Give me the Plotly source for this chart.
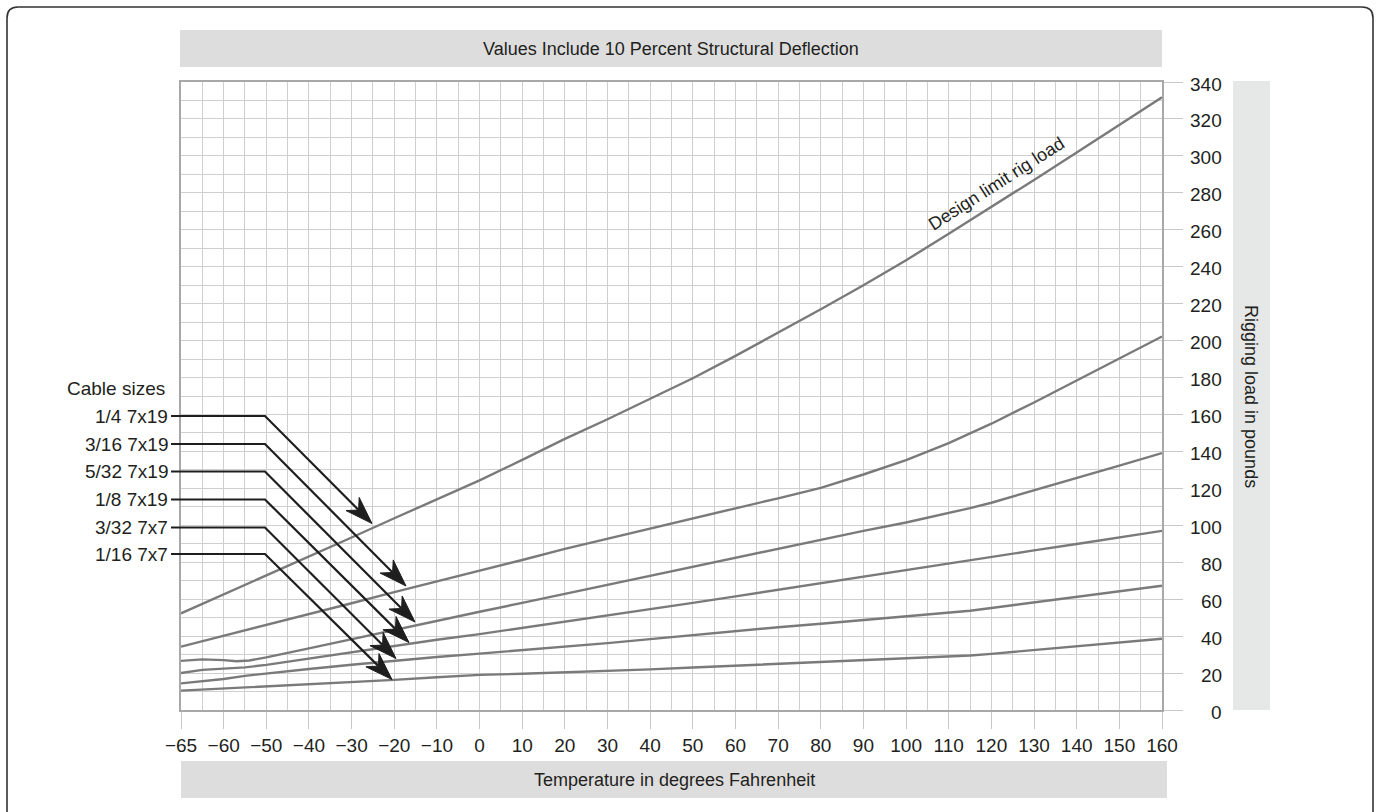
import math
import plotly.graph_objects as go

# ---------------- data (real temperatures in °F, loads in pounds) ----------------
temps_1_4 = [-65, -60, -50, -40, -30, -20, -10, 0, 10, 20, 30, 40, 50, 60, 70, 80, 90, 100, 110, 120, 130, 140, 150, 160]
load_1_4 = [52.3, 62.5, 72.8, 83.1, 93.4, 103.8, 114.0, 124.3, 135.4, 146.8, 157.4, 168.4, 179.6, 191.7, 204.3, 217.0, 230.0, 243.5, 257.8, 272.3, 287.0, 301.8, 316.7, 331.7]

temps_3_16 = [-65, -60, -50, -40, -30, -20, -10, 0, 10, 20, 30, 40, 50, 60, 70, 80, 90, 100, 110, 120, 130, 140, 150, 160]
load_3_16 = [34.3, 40.1, 46.0, 51.9, 57.8, 63.8, 69.5, 75.3, 81.2, 87.2, 92.8, 98.2, 103.8, 109.2, 114.6, 120.3, 127.5, 135.3, 144.5, 155.0, 166.5, 178.5, 190.3, 202.2]

temps_5_32 = [-65, -62.5, -60, -57, -54, -50, -40, -30, -20, -10, 0, 10, 20, 30, 40, 50, 60, 70, 80, 90, 100, 110, 115, 120, 130, 140, 150, 160]
load_5_32 = [26.6, 27.4, 27.0, 26.4, 26.8, 28.5, 33.4, 38.4, 43.6, 48.5, 53.2, 58.0, 62.9, 67.8, 72.7, 77.6, 82.6, 87.5, 92.5, 97.0, 101.5, 106.5, 109.3, 112.2, 118.8, 125.5, 132.3, 139.1]

temps_1_8 = [-65, -62.5, -60, -55, -50, -40, -30, -20, -10, 0, 10, 20, 30, 40, 50, 60, 70, 80, 90, 100, 110, 120, 130, 140, 150, 160]
load_1_8 = [20.0, 21.7, 22.4, 23.1, 24.4, 27.8, 31.3, 34.8, 38.0, 41.1, 44.4, 47.7, 51.1, 54.5, 58.0, 61.5, 65.1, 68.8, 72.3, 75.8, 79.3, 82.9, 86.4, 89.9, 93.5, 97.0]

temps_3_32 = [-65, -60, -55, -50, -40, -30, -20, -10, 0, 10, 20, 25, 30, 40, 50, 60, 70, 80, 90, 100, 110, 115, 120, 130, 140, 150, 160]
load_3_32 = [14.4, 16.8, 18.5, 19.8, 22.2, 24.5, 26.8, 28.7, 30.5, 32.3, 34.0, 35.0, 36.2, 38.4, 40.6, 42.8, 44.8, 46.7, 48.6, 50.6, 52.6, 53.7, 55.2, 58.2, 61.2, 64.2, 67.3]

temps_1_16 = [-65, -60, -50, -40, -30, -20, -10, 0, 10, 20, 30, 40, 50, 60, 70, 80, 90, 100, 110, 115, 120, 130, 140, 150, 160]
load_1_16 = [10.5, 11.6, 12.7, 13.8, 15.0, 16.3, 17.7, 19.0, 19.6, 20.3, 21.1, 22.0, 23.0, 24.0, 25.0, 26.0, 26.9, 27.8, 28.8, 29.5, 30.4, 32.4, 34.5, 36.5, 38.6]

cable_labels = ["1/4 7x19", "3/16 7x19", "5/32 7x19", "1/8 7x19", "3/32 7x7", "1/16 7x7"]

x_tick_temps = [-65, -60, -50, -40, -30, -20, -10, 0, 10, 20, 30, 40, 50, 60, 70, 80, 90, 100, 110, 120, 130, 140, 150, 160]
y_tick_vals = list(range(0, 341, 20))

title_top = "Values Include 10 Percent Structural Deflection"
title_x = "Temperature in degrees Fahrenheit"
title_y = "Rigging load in pounds"
curve_note = "Design limit rig load"

# ---------------- helpers ----------------
def disp(t):
    """The chart draws the -65..-60 step at the same width as a 10 degree step."""
    return t if t >= -60 else -60 + (t + 60) * 2

W, H = 1377, 812
L, R, T, B = 181, 1162, 82, 710

def X(px):
    return (px - L) / (R - L)

def Y(py):
    return (B - py) / (B - T)

FONT = "Liberation Sans, Arial, Helvetica, sans-serif"
TXT = "#231f20"
LINE = "#7a7a7a"
GRID = "#cfcfcf"
INK = "#1e1e1e"

series = [
    (temps_1_4, load_1_4),
    (temps_3_16, load_3_16),
    (temps_5_32, load_5_32),
    (temps_1_8, load_1_8),
    (temps_3_32, load_3_32),
    (temps_1_16, load_1_16),
]

fig = go.Figure()
for (ts, vs), name in zip(series, cable_labels):
    fig.add_trace(go.Scatter(
        x=[disp(t) for t in ts], y=vs, mode="lines", name=name,
        line=dict(color=LINE, width=2.4), showlegend=False, hoverinfo="skip"))

def fmt(t):
    return ("\u2212" + str(-t)) if t < 0 else str(t)

fig.update_xaxes(
    range=[-70, 160], tickmode="array",
    tickvals=[disp(t) for t in x_tick_temps], ticktext=[fmt(t) for t in x_tick_temps],
    ticks="outside", ticklen=17, tickcolor="#c8c8c8", tickwidth=1,
    showgrid=True, gridcolor=GRID, gridwidth=1,
    minor=dict(tickmode="linear", tick0=-70, dtick=5, showgrid=True, gridcolor=GRID, gridwidth=1, ticks=""),
    showline=True, linecolor="#a8a8a8", linewidth=2, mirror=True, zeroline=False,
    tickfont=dict(family=FONT, size=19, color=TXT),
)
fig.update_yaxes(
    range=[0, 340], side="right", tickmode="array", tickvals=y_tick_vals,
    showticklabels=False, ticks="outside", ticklen=19, tickcolor="#c8c8c8", tickwidth=1,
    showgrid=True, gridcolor=GRID, gridwidth=1,
    minor=dict(tickmode="linear", tick0=0, dtick=10, showgrid=True, gridcolor=GRID, gridwidth=1, ticks=""),
    showline=True, linecolor="#a8a8a8", linewidth=2, mirror=True, zeroline=False,
)

shapes = []
annotations = []

def note(text, x, y, size=18, xanchor="center", yanchor="middle", xref="paper", yref="paper", **kw):
    annotations.append(dict(text=text, xref=xref, yref=yref, x=x, y=y, xanchor=xanchor, yanchor=yanchor,
                            showarrow=False, font=dict(family=FONT, size=size, color=TXT), **kw))

# gray bands
shapes.append(dict(type="rect", xref="paper", yref="paper", x0=X(180), x1=X(1162), y0=Y(67), y1=Y(30),
                   fillcolor="#dddddd", line=dict(width=0), layer="below"))
shapes.append(dict(type="rect", xref="paper", yref="paper", x0=X(181), x1=X(1167), y0=Y(798), y1=Y(761),
                   fillcolor="#dddddd", line=dict(width=0), layer="below"))
shapes.append(dict(type="rect", xref="paper", yref="paper", x0=X(1233), x1=X(1270), y0=Y(710), y1=Y(81),
                   fillcolor="#e6e7e7", line=dict(width=0), layer="below"))

# outer rounded frame (bottom edge lies below the picture)
r = 11
p = (f"M {X(7)},{Y(840)} L {X(7)},{Y(7 + r)} Q {X(7)},{Y(7)} {X(7 + r)},{Y(7)} "
     f"L {X(1373 - r)},{Y(7)} Q {X(1373)},{Y(7)} {X(1373)},{Y(7 + r)} L {X(1373)},{Y(840)}")
shapes.append(dict(type="path", xref="paper", yref="paper", path=p, line=dict(color="#333333", width=1.6)))

# titles
note(title_top, X(671), Y(48.5))
note(title_x, X(674), Y(779.5))
note(title_y, X(1251), Y(396), textangle=90)
note(curve_note, X(996), Y(184), textangle=-32.5)

# right-aligned y tick labels
for v in y_tick_vals:
    note(str(v), X(1224), v, size=19, xanchor="right", yref="y", yshift=-2)

# cable size legend with leader arrows
note("Cable sizes", X(167), Y(388), size=19, xanchor="right")
label_y = [416, 444, 471.5, 499.5, 527.5, 554]
tips = [(372, 523.5), (406, 586), (415, 622), (409, 642.5), (396, 658.5), (392, 679.5)]
HEAD_LEN, HEAD_HALF, NOTCH = 27.5, 9.3, 19.0
for lab, ly, (tx, ty) in zip(cable_labels, label_y, tips):
    note(lab, X(170), Y(ly), size=19, xanchor="right")
    # direction of the slanted leader (pixel space, pointing to the tip)
    dx, dy = tx - 265, ty - ly
    n = math.hypot(dx, dy)
    ux, uy = dx / n, dy / n
    px_, py_ = -uy, ux
    nx, ny = tx - NOTCH * ux, ty - NOTCH * uy
    shapes.append(dict(type="path", xref="paper", yref="paper",
                       path=f"M {X(171)},{Y(ly)} L {X(265)},{Y(ly)} L {X(nx)},{Y(ny)}",
                       line=dict(color=INK, width=2.2)))
    bx, by = tx - HEAD_LEN * ux, ty - HEAD_LEN * uy
    b1 = (bx + HEAD_HALF * px_, by + HEAD_HALF * py_)
    b2 = (bx - HEAD_HALF * px_, by - HEAD_HALF * py_)
    head = (f"M {X(tx)},{Y(ty)} L {X(b1[0])},{Y(b1[1])} L {X(nx)},{Y(ny)} "
            f"L {X(b2[0])},{Y(b2[1])} Z")
    shapes.append(dict(type="path", xref="paper", yref="paper", path=head,
                       fillcolor=INK, line=dict(color=INK, width=1)))

fig.update_layout(
    width=W, height=H, margin=dict(l=L, r=W - R, t=T, b=H - B),
    paper_bgcolor="white", plot_bgcolor="white",
    shapes=shapes, annotations=annotations,
    font=dict(family=FONT, color=TXT),
)

fig.write_html("out.html", config={"displayModeBar": False},
               post_script="document.body.style.margin='0';document.body.style.overflow='hidden';")
